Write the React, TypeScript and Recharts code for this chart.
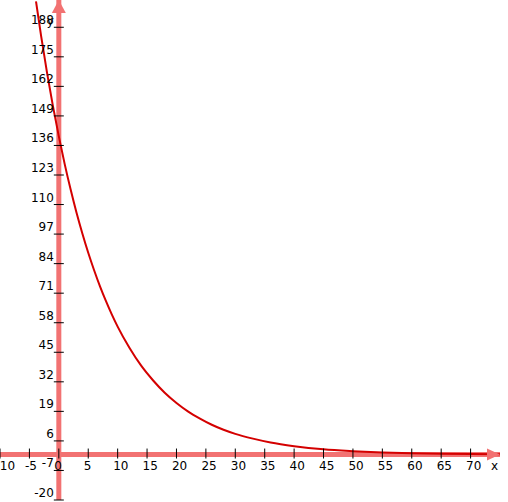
import React from "react";
import { LineChart, Line, XAxis, YAxis, ReferenceLine, ReferenceDot } from "recharts";

const xValues = [-4, -3, -2, -1, 0, 1, 2, 3, 4, 5, 6, 7, 8, 9, 10, 12, 14, 16, 18, 20, 22, 24, 26, 28, 30, 33, 36, 40, 45, 50, 55, 60, 65, 70, 75];
const yValues = [201.5, 184.0, 167.9, 153.3, 140, 127.8, 116.7, 106.5, 97.3, 88.8, 81.1, 74.0, 67.6, 61.7, 56.3, 47.0, 39.1, 32.7, 27.2, 22.7, 18.9, 15.8, 13.1, 10.9, 9.1, 7.0, 5.3, 3.7, 2.3, 1.5, 0.94, 0.6, 0.38, 0.24, 0.15];
const xTickValues = [-10, -5, 0, 5, 10, 15, 20, 25, 30, 35, 40, 45, 50, 55, 60, 65, 70];
const yTickValues = [-20, -7, 6, 19, 32, 45, 58, 71, 84, 97, 110, 123, 136, 149, 162, 175, 188];

const data = xValues.map((x, i) => ({ x, y: yValues[i] }));

const AXIS = "#f27272";
const CURVE = "#d40000";
const FONT = "DejaVu Sans";

const YTick = (props: any) => {
  const { cx, cy, payload } = props;
  return (
    <g>
      <line x1={cx - 5} x2={cx + 5} y1={cy} y2={cy} stroke="#000" strokeWidth={1} />
      <text x={cx - 5} y={cy - 3} textAnchor="end" fontFamily={FONT} fontSize={12} fill="#000">
        {payload}
      </text>
    </g>
  );
};

const XTick = (props: any) => {
  const { cx, cy, payload } = props;
  return (
    <g>
      <line x1={cx} x2={cx} y1={cy - 6} y2={cy + 4} stroke="#000" strokeWidth={1} />
      <text x={cx - 4.5} y={cy + 15} textAnchor="start" fontFamily={FONT} fontSize={12} fill="#000">
        {payload}
      </text>
    </g>
  );
};

const UpArrow = (props: any) => {
  const { cx, cy } = props;
  return (
    <g>
      <polygon points={`${cx},${cy} ${cx - 7},${cy + 13} ${cx + 7},${cy + 13}`} fill={AXIS} />
      <text x={cx - 5} y={cy + 25} textAnchor="end" fontFamily={FONT} fontSize={12} fill="#000">y</text>
    </g>
  );
};

const RightArrow = (props: any) => {
  const { cx, cy } = props;
  return (
    <g>
      <polygon points={`${cx},${cy} ${cx - 13},${cy - 6} ${cx - 13},${cy + 6}`} fill={AXIS} />
      <text x={cx - 9} y={cy + 15} textAnchor="start" fontFamily={FONT} fontSize={12} fill="#000">x</text>
    </g>
  );
};

export default function App() {
  return (
    <div style={{ position: "absolute", left: 0, top: 0 }}>
      <LineChart width={508} height={502} data={data} margin={{ top: 0, right: 8, bottom: 2, left: 0 }}>
        <XAxis type="number" dataKey="x" domain={[-10, 75]} hide allowDataOverflow />
        <YAxis type="number" domain={[-20, 200]} hide allowDataOverflow />
        <ReferenceLine x={0} stroke={AXIS} strokeWidth={5} ifOverflow="visible" />
        <ReferenceLine y={0} stroke={AXIS} strokeWidth={5} ifOverflow="visible" />
        <ReferenceDot x={0} y={200} ifOverflow="visible" shape={UpArrow} />
        <ReferenceDot x={75} y={0} ifOverflow="visible" shape={RightArrow} />
        {yTickValues.map((v) => (
          <ReferenceDot key={"y" + v} x={0} y={v} ifOverflow="visible" shape={(p: any) => <YTick {...p} payload={v} />} />
        ))}
        {xTickValues.map((v) => (
          <ReferenceDot key={"x" + v} x={v} y={0} ifOverflow="visible" shape={(p: any) => <XTick {...p} payload={v} />} />
        ))}
        <Line type="monotone" dataKey="y" stroke={CURVE} strokeWidth={2} dot={false} isAnimationActive={false} />
      </LineChart>
    </div>
  );
}
